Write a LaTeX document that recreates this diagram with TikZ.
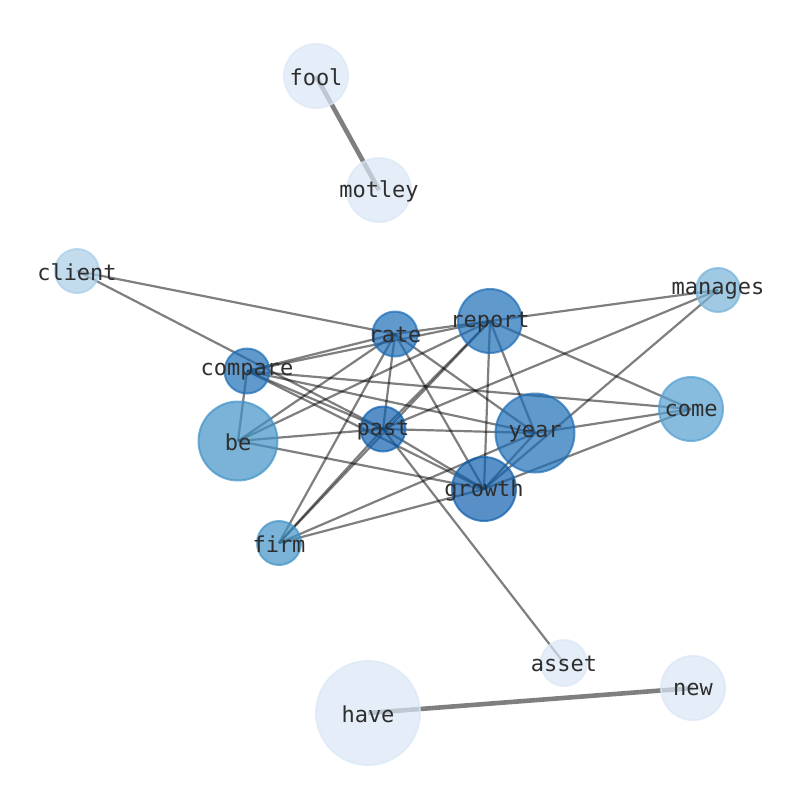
\documentclass[tikz,border=0pt]{standalone}
\usepackage{fontspec}
\setmonofont{DejaVu Sans Mono}
\usetikzlibrary{backgrounds}
\definecolor{cA}{HTML}{DAE7F5}
\definecolor{cB}{HTML}{A8CDE7}
\definecolor{cC}{HTML}{77B3D7}
\definecolor{cD}{HTML}{559FD1}
\definecolor{cE}{HTML}{4192C7}
\definecolor{cF}{HTML}{1D6DB6}
\definecolor{cG}{HTML}{0F60AE}
\definecolor{txt}{HTML}{2E2E2E}
\tikzset{
  vtx/.style n args={3}{circle, inner sep=0pt, minimum size=#2, fill=#1, draw=#1,
    fill opacity=0.7, draw opacity=0.7, line width=2pt,
    label={[lbl]center:#3}},
  lbl/.style={text=txt, text opacity=1, fill opacity=1, inner sep=0pt,
    yshift=-1pt, font=\fontsize{22}{25}\selectfont\ttfamily},
  edge/.style={draw=black, draw opacity=0.5, line width=2.2pt},
  heavy/.style={draw=black, draw opacity=0.5, line width=4.6pt}
}
\begin{document}
\begin{tikzpicture}[x=1pt,y=-1pt]
\useasboundingbox (0,0) rectangle (794,790);
\node[vtx={cA}{64pt}{fool}] (fool) at (316,76) {};
\node[vtx={cA}{64pt}{motley}] (motley) at (379,190) {};
\node[vtx={cB}{44pt}{client}] (client) at (77,271) {};
\node[vtx={cC}{44pt}{manages}] (manages) at (718,290) {};
\node[vtx={cF}{45pt}{rate}] (rate) at (395,334) {};
\node[vtx={cF}{64pt}{report}] (report) at (490,321) {};
\node[vtx={cF}{45pt}{compare}] (compare) at (247,371) {};
\node[vtx={cE}{79pt}{be}] (be) at (238,441) {};
\node[vtx={cG}{45pt}{past}] (past) at (383,429) {};
\node[vtx={cF}{79pt}{year}] (year) at (535,433) {};
\node[vtx={cD}{64pt}{come}] (come) at (691,409) {};
\node[vtx={cG}{64pt}{growth}] (growth) at (484,489) {};
\node[vtx={cE}{44pt}{firm}] (firm) at (279,543) {};
\node[vtx={cA}{46pt}{asset}] (asset) at (564,663) {};
\node[vtx={cA}{104pt}{have}] (have) at (368,713) {};
\node[vtx={cA}{64pt}{new}] (new) at (693,688) {};
\begin{scope}[on background layer]
\draw[heavy] (fool.center) -- (motley.center);
\draw[heavy] (have.center) -- (new.center);
\foreach \a/\b in {past/asset, client/rate, client/past, manages/report,
  manages/past, manages/growth, come/report, come/compare, come/year,
  come/growth, rate/report, rate/compare, rate/be, rate/firm, rate/past,
  rate/growth, rate/year, report/compare, report/be, report/past,
  report/firm, report/year, report/growth, compare/be, compare/year,
  compare/past, compare/growth, be/past, be/growth, past/year,
  past/growth, past/firm, firm/year, firm/growth, year/growth}
  \draw[edge] (\a.center) -- (\b.center);
\end{scope}
\end{tikzpicture}
\end{document}
